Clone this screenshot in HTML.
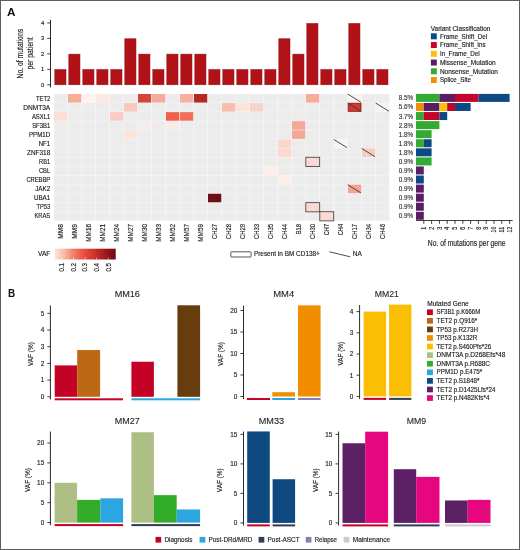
<!DOCTYPE html>
<html><head><meta charset="utf-8"><style>
html,body{margin:0;padding:0;background:#fff;}
#fig{position:relative;width:520px;height:550px;overflow:hidden;background:#fff;}
svg{display:block;font-family:"Liberation Sans", sans-serif;will-change:transform;}
#frame{position:absolute;left:0;top:0;width:518px;height:548px;border:1px solid #5e5e5e;}
</style></head><body>
<div id="fig">
<svg width="520" height="550" viewBox="0 0 520 550" font-family='"Liberation Sans", sans-serif'>
<text x="6.90" y="16.40" font-size="11.5" text-anchor="start" fill="#111" font-weight="bold" textLength="8.50" lengthAdjust="spacingAndGlyphs">A</text>
<text x="23.20" y="53.70" font-size="8.2" text-anchor="middle" fill="#222" stroke="#222" stroke-width="0.15" textLength="49.60" lengthAdjust="spacingAndGlyphs" transform="rotate(-90 23.20 53.70)">No. of mutations</text>
<text x="33.10" y="53.40" font-size="8.2" text-anchor="middle" fill="#222" stroke="#222" stroke-width="0.15" textLength="32.00" lengthAdjust="spacingAndGlyphs" transform="rotate(-90 33.10 53.40)">per patient</text>
<line x1="50.50" y1="19.80" x2="50.50" y2="87.30" stroke="#2a2a2a" stroke-width="1.0"/>
<line x1="47.30" y1="84.80" x2="50.50" y2="84.80" stroke="#2a2a2a" stroke-width="0.9"/>
<text x="44.20" y="86.90" font-size="5.9" text-anchor="end" fill="#222" stroke="#222" stroke-width="0.15">0</text>
<line x1="47.30" y1="69.33" x2="50.50" y2="69.33" stroke="#2a2a2a" stroke-width="0.9"/>
<text x="44.20" y="71.43" font-size="5.9" text-anchor="end" fill="#222" stroke="#222" stroke-width="0.15">1</text>
<line x1="47.30" y1="53.86" x2="50.50" y2="53.86" stroke="#2a2a2a" stroke-width="0.9"/>
<text x="44.20" y="55.96" font-size="5.9" text-anchor="end" fill="#222" stroke="#222" stroke-width="0.15">2</text>
<line x1="47.30" y1="38.39" x2="50.50" y2="38.39" stroke="#2a2a2a" stroke-width="0.9"/>
<text x="44.20" y="40.49" font-size="5.9" text-anchor="end" fill="#222" stroke="#222" stroke-width="0.15">3</text>
<line x1="47.30" y1="22.92" x2="50.50" y2="22.92" stroke="#2a2a2a" stroke-width="0.9"/>
<text x="44.20" y="25.02" font-size="5.9" text-anchor="end" fill="#222" stroke="#222" stroke-width="0.15">4</text>
<rect x="54.80" y="69.45" width="11.20" height="15.35" fill="#b01217" stroke="#8e1a1c" stroke-width="0.5"/>
<rect x="68.80" y="54.10" width="11.20" height="30.70" fill="#b01217" stroke="#8e1a1c" stroke-width="0.5"/>
<rect x="82.80" y="69.45" width="11.20" height="15.35" fill="#b01217" stroke="#8e1a1c" stroke-width="0.5"/>
<rect x="96.80" y="69.45" width="11.20" height="15.35" fill="#b01217" stroke="#8e1a1c" stroke-width="0.5"/>
<rect x="110.80" y="69.45" width="11.20" height="15.35" fill="#b01217" stroke="#8e1a1c" stroke-width="0.5"/>
<rect x="124.80" y="38.75" width="11.20" height="46.05" fill="#b01217" stroke="#8e1a1c" stroke-width="0.5"/>
<rect x="138.80" y="54.10" width="11.20" height="30.70" fill="#b01217" stroke="#8e1a1c" stroke-width="0.5"/>
<rect x="152.80" y="69.45" width="11.20" height="15.35" fill="#b01217" stroke="#8e1a1c" stroke-width="0.5"/>
<rect x="166.80" y="54.10" width="11.20" height="30.70" fill="#b01217" stroke="#8e1a1c" stroke-width="0.5"/>
<rect x="180.80" y="54.10" width="11.20" height="30.70" fill="#b01217" stroke="#8e1a1c" stroke-width="0.5"/>
<rect x="194.80" y="54.10" width="11.20" height="30.70" fill="#b01217" stroke="#8e1a1c" stroke-width="0.5"/>
<rect x="208.80" y="69.45" width="11.20" height="15.35" fill="#b01217" stroke="#8e1a1c" stroke-width="0.5"/>
<rect x="222.80" y="69.45" width="11.20" height="15.35" fill="#b01217" stroke="#8e1a1c" stroke-width="0.5"/>
<rect x="236.80" y="69.45" width="11.20" height="15.35" fill="#b01217" stroke="#8e1a1c" stroke-width="0.5"/>
<rect x="250.80" y="69.45" width="11.20" height="15.35" fill="#b01217" stroke="#8e1a1c" stroke-width="0.5"/>
<rect x="264.80" y="69.45" width="11.20" height="15.35" fill="#b01217" stroke="#8e1a1c" stroke-width="0.5"/>
<rect x="278.80" y="38.75" width="11.20" height="46.05" fill="#b01217" stroke="#8e1a1c" stroke-width="0.5"/>
<rect x="292.80" y="54.10" width="11.20" height="30.70" fill="#b01217" stroke="#8e1a1c" stroke-width="0.5"/>
<rect x="306.80" y="23.40" width="11.20" height="61.40" fill="#b01217" stroke="#8e1a1c" stroke-width="0.5"/>
<rect x="320.80" y="69.45" width="11.20" height="15.35" fill="#b01217" stroke="#8e1a1c" stroke-width="0.5"/>
<rect x="334.80" y="69.45" width="11.20" height="15.35" fill="#b01217" stroke="#8e1a1c" stroke-width="0.5"/>
<rect x="348.80" y="23.40" width="11.20" height="61.40" fill="#b01217" stroke="#8e1a1c" stroke-width="0.5"/>
<rect x="362.80" y="69.45" width="11.20" height="15.35" fill="#b01217" stroke="#8e1a1c" stroke-width="0.5"/>
<rect x="376.80" y="69.45" width="11.20" height="15.35" fill="#b01217" stroke="#8e1a1c" stroke-width="0.5"/>
<rect x="54.30" y="94.30" width="335.10" height="126.08" fill="#f6f6f6"/>
<rect x="54.00" y="94.00" width="13.25" height="8.55" fill="#ececec"/>
<rect x="54.00" y="103.07" width="13.25" height="8.55" fill="#ececec"/>
<rect x="54.00" y="112.14" width="13.25" height="8.55" fill="#f9dfd6"/>
<rect x="54.00" y="121.21" width="13.25" height="8.55" fill="#ececec"/>
<rect x="54.00" y="130.28" width="13.25" height="8.55" fill="#ececec"/>
<rect x="54.00" y="139.35" width="13.25" height="8.55" fill="#ececec"/>
<rect x="54.00" y="148.42" width="13.25" height="8.55" fill="#ececec"/>
<rect x="54.00" y="157.49" width="13.25" height="8.55" fill="#ececec"/>
<rect x="54.00" y="166.56" width="13.25" height="8.55" fill="#ececec"/>
<rect x="54.00" y="175.63" width="13.25" height="8.55" fill="#ececec"/>
<rect x="54.00" y="184.70" width="13.25" height="8.55" fill="#ececec"/>
<rect x="54.00" y="193.77" width="13.25" height="8.55" fill="#ececec"/>
<rect x="54.00" y="202.84" width="13.25" height="8.55" fill="#ececec"/>
<rect x="54.00" y="211.91" width="13.25" height="8.55" fill="#ececec"/>
<rect x="68.00" y="94.00" width="13.25" height="8.55" fill="#f7ac98"/>
<rect x="68.00" y="103.07" width="13.25" height="8.55" fill="#ececec"/>
<rect x="68.00" y="112.14" width="13.25" height="8.55" fill="#ececec"/>
<rect x="68.00" y="121.21" width="13.25" height="8.55" fill="#ececec"/>
<rect x="68.00" y="130.28" width="13.25" height="8.55" fill="#ececec"/>
<rect x="68.00" y="139.35" width="13.25" height="8.55" fill="#ececec"/>
<rect x="68.00" y="148.42" width="13.25" height="8.55" fill="#ececec"/>
<rect x="68.00" y="157.49" width="13.25" height="8.55" fill="#ececec"/>
<rect x="68.00" y="166.56" width="13.25" height="8.55" fill="#ececec"/>
<rect x="68.00" y="175.63" width="13.25" height="8.55" fill="#ececec"/>
<rect x="68.00" y="184.70" width="13.25" height="8.55" fill="#ececec"/>
<rect x="68.00" y="193.77" width="13.25" height="8.55" fill="#ececec"/>
<rect x="68.00" y="202.84" width="13.25" height="8.55" fill="#ececec"/>
<rect x="68.00" y="211.91" width="13.25" height="8.55" fill="#ececec"/>
<rect x="82.00" y="94.00" width="13.25" height="8.55" fill="#fdf3ee"/>
<rect x="82.00" y="103.07" width="13.25" height="8.55" fill="#ececec"/>
<rect x="82.00" y="112.14" width="13.25" height="8.55" fill="#ececec"/>
<rect x="82.00" y="121.21" width="13.25" height="8.55" fill="#ececec"/>
<rect x="82.00" y="130.28" width="13.25" height="8.55" fill="#ececec"/>
<rect x="82.00" y="139.35" width="13.25" height="8.55" fill="#ececec"/>
<rect x="82.00" y="148.42" width="13.25" height="8.55" fill="#ececec"/>
<rect x="82.00" y="157.49" width="13.25" height="8.55" fill="#ececec"/>
<rect x="82.00" y="166.56" width="13.25" height="8.55" fill="#ececec"/>
<rect x="82.00" y="175.63" width="13.25" height="8.55" fill="#ececec"/>
<rect x="82.00" y="184.70" width="13.25" height="8.55" fill="#ececec"/>
<rect x="82.00" y="193.77" width="13.25" height="8.55" fill="#ececec"/>
<rect x="82.00" y="202.84" width="13.25" height="8.55" fill="#ececec"/>
<rect x="82.00" y="211.91" width="13.25" height="8.55" fill="#ececec"/>
<rect x="96.00" y="94.00" width="13.25" height="8.55" fill="#fce9e4"/>
<rect x="96.00" y="103.07" width="13.25" height="8.55" fill="#ececec"/>
<rect x="96.00" y="112.14" width="13.25" height="8.55" fill="#ececec"/>
<rect x="96.00" y="121.21" width="13.25" height="8.55" fill="#ececec"/>
<rect x="96.00" y="130.28" width="13.25" height="8.55" fill="#ececec"/>
<rect x="96.00" y="139.35" width="13.25" height="8.55" fill="#ececec"/>
<rect x="96.00" y="148.42" width="13.25" height="8.55" fill="#ececec"/>
<rect x="96.00" y="157.49" width="13.25" height="8.55" fill="#ececec"/>
<rect x="96.00" y="166.56" width="13.25" height="8.55" fill="#ececec"/>
<rect x="96.00" y="175.63" width="13.25" height="8.55" fill="#ececec"/>
<rect x="96.00" y="184.70" width="13.25" height="8.55" fill="#ececec"/>
<rect x="96.00" y="193.77" width="13.25" height="8.55" fill="#ececec"/>
<rect x="96.00" y="202.84" width="13.25" height="8.55" fill="#ececec"/>
<rect x="96.00" y="211.91" width="13.25" height="8.55" fill="#ececec"/>
<rect x="110.00" y="94.00" width="13.25" height="8.55" fill="#ececec"/>
<rect x="110.00" y="103.07" width="13.25" height="8.55" fill="#ececec"/>
<rect x="110.00" y="112.14" width="13.25" height="8.55" fill="#f9cbc3"/>
<rect x="110.00" y="121.21" width="13.25" height="8.55" fill="#ececec"/>
<rect x="110.00" y="130.28" width="13.25" height="8.55" fill="#ececec"/>
<rect x="110.00" y="139.35" width="13.25" height="8.55" fill="#ececec"/>
<rect x="110.00" y="148.42" width="13.25" height="8.55" fill="#ececec"/>
<rect x="110.00" y="157.49" width="13.25" height="8.55" fill="#ececec"/>
<rect x="110.00" y="166.56" width="13.25" height="8.55" fill="#ececec"/>
<rect x="110.00" y="175.63" width="13.25" height="8.55" fill="#ececec"/>
<rect x="110.00" y="184.70" width="13.25" height="8.55" fill="#ececec"/>
<rect x="110.00" y="193.77" width="13.25" height="8.55" fill="#ececec"/>
<rect x="110.00" y="202.84" width="13.25" height="8.55" fill="#ececec"/>
<rect x="110.00" y="211.91" width="13.25" height="8.55" fill="#ececec"/>
<rect x="124.00" y="94.00" width="13.25" height="8.55" fill="#ececec"/>
<rect x="124.00" y="103.07" width="13.25" height="8.55" fill="#f8c8c0"/>
<rect x="124.00" y="112.14" width="13.25" height="8.55" fill="#ececec"/>
<rect x="124.00" y="121.21" width="13.25" height="8.55" fill="#ececec"/>
<rect x="124.00" y="130.28" width="13.25" height="8.55" fill="#fce3dc"/>
<rect x="124.00" y="139.35" width="13.25" height="8.55" fill="#ececec"/>
<rect x="124.00" y="148.42" width="13.25" height="8.55" fill="#ececec"/>
<rect x="124.00" y="157.49" width="13.25" height="8.55" fill="#ececec"/>
<rect x="124.00" y="166.56" width="13.25" height="8.55" fill="#ececec"/>
<rect x="124.00" y="175.63" width="13.25" height="8.55" fill="#ececec"/>
<rect x="124.00" y="184.70" width="13.25" height="8.55" fill="#ececec"/>
<rect x="124.00" y="193.77" width="13.25" height="8.55" fill="#ececec"/>
<rect x="124.00" y="202.84" width="13.25" height="8.55" fill="#ececec"/>
<rect x="124.00" y="211.91" width="13.25" height="8.55" fill="#ececec"/>
<rect x="138.00" y="94.00" width="13.25" height="8.55" fill="#d64538"/>
<rect x="138.00" y="103.07" width="13.25" height="8.55" fill="#ececec"/>
<rect x="138.00" y="112.14" width="13.25" height="8.55" fill="#ececec"/>
<rect x="138.00" y="121.21" width="13.25" height="8.55" fill="#f6ece8"/>
<rect x="138.00" y="130.28" width="13.25" height="8.55" fill="#ececec"/>
<rect x="138.00" y="139.35" width="13.25" height="8.55" fill="#ececec"/>
<rect x="138.00" y="148.42" width="13.25" height="8.55" fill="#ececec"/>
<rect x="138.00" y="157.49" width="13.25" height="8.55" fill="#ececec"/>
<rect x="138.00" y="166.56" width="13.25" height="8.55" fill="#ececec"/>
<rect x="138.00" y="175.63" width="13.25" height="8.55" fill="#ececec"/>
<rect x="138.00" y="184.70" width="13.25" height="8.55" fill="#ececec"/>
<rect x="138.00" y="193.77" width="13.25" height="8.55" fill="#ececec"/>
<rect x="138.00" y="202.84" width="13.25" height="8.55" fill="#ececec"/>
<rect x="138.00" y="211.91" width="13.25" height="8.55" fill="#ececec"/>
<rect x="152.00" y="94.00" width="13.25" height="8.55" fill="#f5ab9b"/>
<rect x="152.00" y="103.07" width="13.25" height="8.55" fill="#ececec"/>
<rect x="152.00" y="112.14" width="13.25" height="8.55" fill="#ececec"/>
<rect x="152.00" y="121.21" width="13.25" height="8.55" fill="#ececec"/>
<rect x="152.00" y="130.28" width="13.25" height="8.55" fill="#ececec"/>
<rect x="152.00" y="139.35" width="13.25" height="8.55" fill="#ececec"/>
<rect x="152.00" y="148.42" width="13.25" height="8.55" fill="#ececec"/>
<rect x="152.00" y="157.49" width="13.25" height="8.55" fill="#ececec"/>
<rect x="152.00" y="166.56" width="13.25" height="8.55" fill="#ececec"/>
<rect x="152.00" y="175.63" width="13.25" height="8.55" fill="#ececec"/>
<rect x="152.00" y="184.70" width="13.25" height="8.55" fill="#ececec"/>
<rect x="152.00" y="193.77" width="13.25" height="8.55" fill="#ececec"/>
<rect x="152.00" y="202.84" width="13.25" height="8.55" fill="#ececec"/>
<rect x="152.00" y="211.91" width="13.25" height="8.55" fill="#ececec"/>
<rect x="166.00" y="94.00" width="13.25" height="8.55" fill="#ececec"/>
<rect x="166.00" y="103.07" width="13.25" height="8.55" fill="#ececec"/>
<rect x="166.00" y="112.14" width="13.25" height="8.55" fill="#f05f48"/>
<rect x="166.00" y="121.21" width="13.25" height="8.55" fill="#f6ebe7"/>
<rect x="166.00" y="130.28" width="13.25" height="8.55" fill="#ececec"/>
<rect x="166.00" y="139.35" width="13.25" height="8.55" fill="#ececec"/>
<rect x="166.00" y="148.42" width="13.25" height="8.55" fill="#ececec"/>
<rect x="166.00" y="157.49" width="13.25" height="8.55" fill="#ececec"/>
<rect x="166.00" y="166.56" width="13.25" height="8.55" fill="#ececec"/>
<rect x="166.00" y="175.63" width="13.25" height="8.55" fill="#ececec"/>
<rect x="166.00" y="184.70" width="13.25" height="8.55" fill="#ececec"/>
<rect x="166.00" y="193.77" width="13.25" height="8.55" fill="#ececec"/>
<rect x="166.00" y="202.84" width="13.25" height="8.55" fill="#ececec"/>
<rect x="166.00" y="211.91" width="13.25" height="8.55" fill="#ececec"/>
<rect x="180.00" y="94.00" width="13.25" height="8.55" fill="#f5b0a0"/>
<rect x="180.00" y="103.07" width="13.25" height="8.55" fill="#ececec"/>
<rect x="180.00" y="112.14" width="13.25" height="8.55" fill="#f0705a"/>
<rect x="180.00" y="121.21" width="13.25" height="8.55" fill="#ececec"/>
<rect x="180.00" y="130.28" width="13.25" height="8.55" fill="#ececec"/>
<rect x="180.00" y="139.35" width="13.25" height="8.55" fill="#ececec"/>
<rect x="180.00" y="148.42" width="13.25" height="8.55" fill="#ececec"/>
<rect x="180.00" y="157.49" width="13.25" height="8.55" fill="#ececec"/>
<rect x="180.00" y="166.56" width="13.25" height="8.55" fill="#ececec"/>
<rect x="180.00" y="175.63" width="13.25" height="8.55" fill="#ececec"/>
<rect x="180.00" y="184.70" width="13.25" height="8.55" fill="#ececec"/>
<rect x="180.00" y="193.77" width="13.25" height="8.55" fill="#ececec"/>
<rect x="180.00" y="202.84" width="13.25" height="8.55" fill="#ececec"/>
<rect x="180.00" y="211.91" width="13.25" height="8.55" fill="#ececec"/>
<rect x="194.00" y="94.00" width="13.25" height="8.55" fill="#b22a24"/>
<rect x="194.00" y="103.07" width="13.25" height="8.55" fill="#ececec"/>
<rect x="194.00" y="112.14" width="13.25" height="8.55" fill="#ececec"/>
<rect x="194.00" y="121.21" width="13.25" height="8.55" fill="#ececec"/>
<rect x="194.00" y="130.28" width="13.25" height="8.55" fill="#ececec"/>
<rect x="194.00" y="139.35" width="13.25" height="8.55" fill="#ececec"/>
<rect x="194.00" y="148.42" width="13.25" height="8.55" fill="#ececec"/>
<rect x="194.00" y="157.49" width="13.25" height="8.55" fill="#ececec"/>
<rect x="194.00" y="166.56" width="13.25" height="8.55" fill="#ececec"/>
<rect x="194.00" y="175.63" width="13.25" height="8.55" fill="#ececec"/>
<rect x="194.00" y="184.70" width="13.25" height="8.55" fill="#ececec"/>
<rect x="194.00" y="193.77" width="13.25" height="8.55" fill="#ececec"/>
<rect x="194.00" y="202.84" width="13.25" height="8.55" fill="#ececec"/>
<rect x="194.00" y="211.91" width="13.25" height="8.55" fill="#ececec"/>
<rect x="208.00" y="94.00" width="13.25" height="8.55" fill="#ececec"/>
<rect x="208.00" y="103.07" width="13.25" height="8.55" fill="#ececec"/>
<rect x="208.00" y="112.14" width="13.25" height="8.55" fill="#ececec"/>
<rect x="208.00" y="121.21" width="13.25" height="8.55" fill="#ececec"/>
<rect x="208.00" y="130.28" width="13.25" height="8.55" fill="#ececec"/>
<rect x="208.00" y="139.35" width="13.25" height="8.55" fill="#ececec"/>
<rect x="208.00" y="148.42" width="13.25" height="8.55" fill="#ececec"/>
<rect x="208.00" y="157.49" width="13.25" height="8.55" fill="#ececec"/>
<rect x="208.00" y="166.56" width="13.25" height="8.55" fill="#ececec"/>
<rect x="208.00" y="175.63" width="13.25" height="8.55" fill="#ececec"/>
<rect x="208.00" y="184.70" width="13.25" height="8.55" fill="#ececec"/>
<rect x="208.00" y="193.77" width="13.25" height="8.55" fill="#6c1014"/>
<rect x="208.00" y="202.84" width="13.25" height="8.55" fill="#ececec"/>
<rect x="208.00" y="211.91" width="13.25" height="8.55" fill="#ececec"/>
<rect x="222.00" y="94.00" width="13.25" height="8.55" fill="#ececec"/>
<rect x="222.00" y="103.07" width="13.25" height="8.55" fill="#f8bead"/>
<rect x="222.00" y="112.14" width="13.25" height="8.55" fill="#ececec"/>
<rect x="222.00" y="121.21" width="13.25" height="8.55" fill="#ececec"/>
<rect x="222.00" y="130.28" width="13.25" height="8.55" fill="#ececec"/>
<rect x="222.00" y="139.35" width="13.25" height="8.55" fill="#ececec"/>
<rect x="222.00" y="148.42" width="13.25" height="8.55" fill="#ececec"/>
<rect x="222.00" y="157.49" width="13.25" height="8.55" fill="#ececec"/>
<rect x="222.00" y="166.56" width="13.25" height="8.55" fill="#ececec"/>
<rect x="222.00" y="175.63" width="13.25" height="8.55" fill="#ececec"/>
<rect x="222.00" y="184.70" width="13.25" height="8.55" fill="#ececec"/>
<rect x="222.00" y="193.77" width="13.25" height="8.55" fill="#ececec"/>
<rect x="222.00" y="202.84" width="13.25" height="8.55" fill="#ececec"/>
<rect x="222.00" y="211.91" width="13.25" height="8.55" fill="#ececec"/>
<rect x="236.00" y="94.00" width="13.25" height="8.55" fill="#ececec"/>
<rect x="236.00" y="103.07" width="13.25" height="8.55" fill="#fde2da"/>
<rect x="236.00" y="112.14" width="13.25" height="8.55" fill="#ececec"/>
<rect x="236.00" y="121.21" width="13.25" height="8.55" fill="#ececec"/>
<rect x="236.00" y="130.28" width="13.25" height="8.55" fill="#ececec"/>
<rect x="236.00" y="139.35" width="13.25" height="8.55" fill="#ececec"/>
<rect x="236.00" y="148.42" width="13.25" height="8.55" fill="#ececec"/>
<rect x="236.00" y="157.49" width="13.25" height="8.55" fill="#ececec"/>
<rect x="236.00" y="166.56" width="13.25" height="8.55" fill="#ececec"/>
<rect x="236.00" y="175.63" width="13.25" height="8.55" fill="#ececec"/>
<rect x="236.00" y="184.70" width="13.25" height="8.55" fill="#ececec"/>
<rect x="236.00" y="193.77" width="13.25" height="8.55" fill="#ececec"/>
<rect x="236.00" y="202.84" width="13.25" height="8.55" fill="#ececec"/>
<rect x="236.00" y="211.91" width="13.25" height="8.55" fill="#ececec"/>
<rect x="250.00" y="94.00" width="13.25" height="8.55" fill="#ececec"/>
<rect x="250.00" y="103.07" width="13.25" height="8.55" fill="#f7d3ca"/>
<rect x="250.00" y="112.14" width="13.25" height="8.55" fill="#ececec"/>
<rect x="250.00" y="121.21" width="13.25" height="8.55" fill="#ececec"/>
<rect x="250.00" y="130.28" width="13.25" height="8.55" fill="#ececec"/>
<rect x="250.00" y="139.35" width="13.25" height="8.55" fill="#ececec"/>
<rect x="250.00" y="148.42" width="13.25" height="8.55" fill="#ececec"/>
<rect x="250.00" y="157.49" width="13.25" height="8.55" fill="#ececec"/>
<rect x="250.00" y="166.56" width="13.25" height="8.55" fill="#ececec"/>
<rect x="250.00" y="175.63" width="13.25" height="8.55" fill="#ececec"/>
<rect x="250.00" y="184.70" width="13.25" height="8.55" fill="#ececec"/>
<rect x="250.00" y="193.77" width="13.25" height="8.55" fill="#ececec"/>
<rect x="250.00" y="202.84" width="13.25" height="8.55" fill="#ececec"/>
<rect x="250.00" y="211.91" width="13.25" height="8.55" fill="#ececec"/>
<rect x="264.00" y="94.00" width="13.25" height="8.55" fill="#ececec"/>
<rect x="264.00" y="103.07" width="13.25" height="8.55" fill="#ececec"/>
<rect x="264.00" y="112.14" width="13.25" height="8.55" fill="#ececec"/>
<rect x="264.00" y="121.21" width="13.25" height="8.55" fill="#ececec"/>
<rect x="264.00" y="130.28" width="13.25" height="8.55" fill="#ececec"/>
<rect x="264.00" y="139.35" width="13.25" height="8.55" fill="#ececec"/>
<rect x="264.00" y="148.42" width="13.25" height="8.55" fill="#ececec"/>
<rect x="264.00" y="157.49" width="13.25" height="8.55" fill="#ececec"/>
<rect x="264.00" y="166.56" width="13.25" height="8.55" fill="#fdeee9"/>
<rect x="264.00" y="175.63" width="13.25" height="8.55" fill="#ececec"/>
<rect x="264.00" y="184.70" width="13.25" height="8.55" fill="#ececec"/>
<rect x="264.00" y="193.77" width="13.25" height="8.55" fill="#ececec"/>
<rect x="264.00" y="202.84" width="13.25" height="8.55" fill="#ececec"/>
<rect x="264.00" y="211.91" width="13.25" height="8.55" fill="#ececec"/>
<rect x="278.00" y="94.00" width="13.25" height="8.55" fill="#ececec"/>
<rect x="278.00" y="103.07" width="13.25" height="8.55" fill="#ececec"/>
<rect x="278.00" y="112.14" width="13.25" height="8.55" fill="#ececec"/>
<rect x="278.00" y="121.21" width="13.25" height="8.55" fill="#ececec"/>
<rect x="278.00" y="130.28" width="13.25" height="8.55" fill="#ececec"/>
<rect x="278.00" y="139.35" width="13.25" height="8.55" fill="#fad6cc"/>
<rect x="278.00" y="148.42" width="13.25" height="8.55" fill="#fcd8d1"/>
<rect x="278.00" y="157.49" width="13.25" height="8.55" fill="#ececec"/>
<rect x="278.00" y="166.56" width="13.25" height="8.55" fill="#ececec"/>
<rect x="278.00" y="175.63" width="13.25" height="8.55" fill="#fdeee9"/>
<rect x="278.00" y="184.70" width="13.25" height="8.55" fill="#ececec"/>
<rect x="278.00" y="193.77" width="13.25" height="8.55" fill="#ececec"/>
<rect x="278.00" y="202.84" width="13.25" height="8.55" fill="#ececec"/>
<rect x="278.00" y="211.91" width="13.25" height="8.55" fill="#ececec"/>
<rect x="292.00" y="94.00" width="13.25" height="8.55" fill="#ececec"/>
<rect x="292.00" y="103.07" width="13.25" height="8.55" fill="#ececec"/>
<rect x="292.00" y="112.14" width="13.25" height="8.55" fill="#ececec"/>
<rect x="292.00" y="121.21" width="13.25" height="8.55" fill="#f4a898"/>
<rect x="292.00" y="130.28" width="13.25" height="8.55" fill="#f5a698"/>
<rect x="292.00" y="139.35" width="13.25" height="8.55" fill="#ececec"/>
<rect x="292.00" y="148.42" width="13.25" height="8.55" fill="#ececec"/>
<rect x="292.00" y="157.49" width="13.25" height="8.55" fill="#ececec"/>
<rect x="292.00" y="166.56" width="13.25" height="8.55" fill="#ececec"/>
<rect x="292.00" y="175.63" width="13.25" height="8.55" fill="#ececec"/>
<rect x="292.00" y="184.70" width="13.25" height="8.55" fill="#ececec"/>
<rect x="292.00" y="193.77" width="13.25" height="8.55" fill="#ececec"/>
<rect x="292.00" y="202.84" width="13.25" height="8.55" fill="#ececec"/>
<rect x="292.00" y="211.91" width="13.25" height="8.55" fill="#ececec"/>
<rect x="306.00" y="94.00" width="13.25" height="8.55" fill="#f7ab9b"/>
<rect x="306.00" y="103.07" width="13.25" height="8.55" fill="#ececec"/>
<rect x="306.00" y="112.14" width="13.25" height="8.55" fill="#ececec"/>
<rect x="306.00" y="121.21" width="13.25" height="8.55" fill="#ececec"/>
<rect x="306.00" y="130.28" width="13.25" height="8.55" fill="#ececec"/>
<rect x="306.00" y="139.35" width="13.25" height="8.55" fill="#ececec"/>
<rect x="306.00" y="148.42" width="13.25" height="8.55" fill="#ececec"/>
<rect x="306.00" y="157.49" width="13.25" height="8.55" fill="#fbd8d1"/>
<rect x="306.00" y="166.56" width="13.25" height="8.55" fill="#ececec"/>
<rect x="306.00" y="175.63" width="13.25" height="8.55" fill="#ececec"/>
<rect x="306.00" y="184.70" width="13.25" height="8.55" fill="#ececec"/>
<rect x="306.00" y="193.77" width="13.25" height="8.55" fill="#ececec"/>
<rect x="306.00" y="202.84" width="13.25" height="8.55" fill="#fbd8d1"/>
<rect x="306.00" y="211.91" width="13.25" height="8.55" fill="#ececec"/>
<rect x="320.00" y="94.00" width="13.25" height="8.55" fill="#ececec"/>
<rect x="320.00" y="103.07" width="13.25" height="8.55" fill="#ececec"/>
<rect x="320.00" y="112.14" width="13.25" height="8.55" fill="#ececec"/>
<rect x="320.00" y="121.21" width="13.25" height="8.55" fill="#ececec"/>
<rect x="320.00" y="130.28" width="13.25" height="8.55" fill="#ececec"/>
<rect x="320.00" y="139.35" width="13.25" height="8.55" fill="#ececec"/>
<rect x="320.00" y="148.42" width="13.25" height="8.55" fill="#ececec"/>
<rect x="320.00" y="157.49" width="13.25" height="8.55" fill="#ececec"/>
<rect x="320.00" y="166.56" width="13.25" height="8.55" fill="#ececec"/>
<rect x="320.00" y="175.63" width="13.25" height="8.55" fill="#ececec"/>
<rect x="320.00" y="184.70" width="13.25" height="8.55" fill="#ececec"/>
<rect x="320.00" y="193.77" width="13.25" height="8.55" fill="#ececec"/>
<rect x="320.00" y="202.84" width="13.25" height="8.55" fill="#ececec"/>
<rect x="320.00" y="211.91" width="13.25" height="8.55" fill="#fcdad0"/>
<rect x="334.00" y="94.00" width="13.25" height="8.55" fill="#ececec"/>
<rect x="334.00" y="103.07" width="13.25" height="8.55" fill="#ececec"/>
<rect x="334.00" y="112.14" width="13.25" height="8.55" fill="#ececec"/>
<rect x="334.00" y="121.21" width="13.25" height="8.55" fill="#ececec"/>
<rect x="334.00" y="130.28" width="13.25" height="8.55" fill="#ececec"/>
<rect x="334.00" y="139.35" width="13.25" height="8.55" fill="#f9f3f0"/>
<rect x="334.00" y="148.42" width="13.25" height="8.55" fill="#ececec"/>
<rect x="334.00" y="157.49" width="13.25" height="8.55" fill="#ececec"/>
<rect x="334.00" y="166.56" width="13.25" height="8.55" fill="#ececec"/>
<rect x="334.00" y="175.63" width="13.25" height="8.55" fill="#ececec"/>
<rect x="334.00" y="184.70" width="13.25" height="8.55" fill="#ececec"/>
<rect x="334.00" y="193.77" width="13.25" height="8.55" fill="#ececec"/>
<rect x="334.00" y="202.84" width="13.25" height="8.55" fill="#ececec"/>
<rect x="334.00" y="211.91" width="13.25" height="8.55" fill="#ececec"/>
<rect x="348.00" y="94.00" width="13.25" height="8.55" fill="#f9f3f0"/>
<rect x="348.00" y="103.07" width="13.25" height="8.55" fill="#cc3a30"/>
<rect x="348.00" y="112.14" width="13.25" height="8.55" fill="#ececec"/>
<rect x="348.00" y="121.21" width="13.25" height="8.55" fill="#ececec"/>
<rect x="348.00" y="130.28" width="13.25" height="8.55" fill="#ececec"/>
<rect x="348.00" y="139.35" width="13.25" height="8.55" fill="#ececec"/>
<rect x="348.00" y="148.42" width="13.25" height="8.55" fill="#ececec"/>
<rect x="348.00" y="157.49" width="13.25" height="8.55" fill="#ececec"/>
<rect x="348.00" y="166.56" width="13.25" height="8.55" fill="#ececec"/>
<rect x="348.00" y="175.63" width="13.25" height="8.55" fill="#ececec"/>
<rect x="348.00" y="184.70" width="13.25" height="8.55" fill="#f5a493"/>
<rect x="348.00" y="193.77" width="13.25" height="8.55" fill="#ececec"/>
<rect x="348.00" y="202.84" width="13.25" height="8.55" fill="#ececec"/>
<rect x="348.00" y="211.91" width="13.25" height="8.55" fill="#ececec"/>
<rect x="362.00" y="94.00" width="13.25" height="8.55" fill="#ececec"/>
<rect x="362.00" y="103.07" width="13.25" height="8.55" fill="#ececec"/>
<rect x="362.00" y="112.14" width="13.25" height="8.55" fill="#ececec"/>
<rect x="362.00" y="121.21" width="13.25" height="8.55" fill="#ececec"/>
<rect x="362.00" y="130.28" width="13.25" height="8.55" fill="#ececec"/>
<rect x="362.00" y="139.35" width="13.25" height="8.55" fill="#ececec"/>
<rect x="362.00" y="148.42" width="13.25" height="8.55" fill="#f8cdc0"/>
<rect x="362.00" y="157.49" width="13.25" height="8.55" fill="#ececec"/>
<rect x="362.00" y="166.56" width="13.25" height="8.55" fill="#ececec"/>
<rect x="362.00" y="175.63" width="13.25" height="8.55" fill="#ececec"/>
<rect x="362.00" y="184.70" width="13.25" height="8.55" fill="#ececec"/>
<rect x="362.00" y="193.77" width="13.25" height="8.55" fill="#ececec"/>
<rect x="362.00" y="202.84" width="13.25" height="8.55" fill="#ececec"/>
<rect x="362.00" y="211.91" width="13.25" height="8.55" fill="#ececec"/>
<rect x="376.00" y="94.00" width="13.25" height="8.55" fill="#ececec"/>
<rect x="376.00" y="103.07" width="13.25" height="8.55" fill="#f9f3f0"/>
<rect x="376.00" y="112.14" width="13.25" height="8.55" fill="#ececec"/>
<rect x="376.00" y="121.21" width="13.25" height="8.55" fill="#ececec"/>
<rect x="376.00" y="130.28" width="13.25" height="8.55" fill="#ececec"/>
<rect x="376.00" y="139.35" width="13.25" height="8.55" fill="#ececec"/>
<rect x="376.00" y="148.42" width="13.25" height="8.55" fill="#ececec"/>
<rect x="376.00" y="157.49" width="13.25" height="8.55" fill="#ececec"/>
<rect x="376.00" y="166.56" width="13.25" height="8.55" fill="#ececec"/>
<rect x="376.00" y="175.63" width="13.25" height="8.55" fill="#ececec"/>
<rect x="376.00" y="184.70" width="13.25" height="8.55" fill="#ececec"/>
<rect x="376.00" y="193.77" width="13.25" height="8.55" fill="#ececec"/>
<rect x="376.00" y="202.84" width="13.25" height="8.55" fill="#ececec"/>
<rect x="376.00" y="211.91" width="13.25" height="8.55" fill="#ececec"/>
<rect x="305.80" y="157.29" width="13.85" height="9.15" fill="none" stroke="#4a4a4a" stroke-width="0.9"/>
<rect x="305.80" y="202.64" width="13.85" height="9.15" fill="none" stroke="#4a4a4a" stroke-width="0.9"/>
<rect x="319.80" y="211.71" width="13.85" height="9.15" fill="none" stroke="#4a4a4a" stroke-width="0.9"/>
<rect x="348.10" y="103.17" width="12.85" height="8.35" fill="none" stroke="#8a2020" stroke-width="0.7"/>
<line x1="347.70" y1="94.00" x2="360.95" y2="102.25" stroke="#3a3a3a" stroke-width="0.9"/>
<line x1="347.70" y1="103.07" x2="360.95" y2="111.32" stroke="#3a3a3a" stroke-width="0.9"/>
<line x1="333.70" y1="139.35" x2="346.95" y2="147.60" stroke="#3a3a3a" stroke-width="0.9"/>
<line x1="361.70" y1="148.42" x2="374.95" y2="156.67" stroke="#3a3a3a" stroke-width="0.9"/>
<line x1="347.70" y1="184.70" x2="360.95" y2="192.95" stroke="#3a3a3a" stroke-width="0.9"/>
<line x1="375.70" y1="103.07" x2="388.95" y2="111.32" stroke="#3a3a3a" stroke-width="0.9"/>
<text x="50.20" y="100.55" font-size="6.5" text-anchor="end" fill="#222" stroke="#222" stroke-width="0.15" textLength="14.20" lengthAdjust="spacingAndGlyphs">TET2</text>
<text x="50.20" y="109.62" font-size="6.5" text-anchor="end" fill="#222" stroke="#222" stroke-width="0.15" textLength="27.00" lengthAdjust="spacingAndGlyphs">DNMT3A</text>
<text x="50.20" y="118.69" font-size="6.5" text-anchor="end" fill="#222" stroke="#222" stroke-width="0.15" textLength="18.30" lengthAdjust="spacingAndGlyphs">ASXL1</text>
<text x="50.20" y="127.76" font-size="6.5" text-anchor="end" fill="#222" stroke="#222" stroke-width="0.15" textLength="18.00" lengthAdjust="spacingAndGlyphs">SF3B1</text>
<text x="50.20" y="136.83" font-size="6.5" text-anchor="end" fill="#222" stroke="#222" stroke-width="0.15" textLength="21.20" lengthAdjust="spacingAndGlyphs">PPM1D</text>
<text x="50.20" y="145.90" font-size="6.5" text-anchor="end" fill="#222" stroke="#222" stroke-width="0.15" textLength="11.50" lengthAdjust="spacingAndGlyphs">NF1</text>
<text x="50.20" y="154.97" font-size="6.5" text-anchor="end" fill="#222" stroke="#222" stroke-width="0.15" textLength="23.10" lengthAdjust="spacingAndGlyphs">ZNF318</text>
<text x="50.20" y="164.04" font-size="6.5" text-anchor="end" fill="#222" stroke="#222" stroke-width="0.15" textLength="11.10" lengthAdjust="spacingAndGlyphs">RB1</text>
<text x="50.20" y="173.11" font-size="6.5" text-anchor="end" fill="#222" stroke="#222" stroke-width="0.15" textLength="11.30" lengthAdjust="spacingAndGlyphs">CBL</text>
<text x="50.20" y="182.18" font-size="6.5" text-anchor="end" fill="#222" stroke="#222" stroke-width="0.15" textLength="23.80" lengthAdjust="spacingAndGlyphs">CREBBP</text>
<text x="50.20" y="191.25" font-size="6.5" text-anchor="end" fill="#222" stroke="#222" stroke-width="0.15" textLength="15.00" lengthAdjust="spacingAndGlyphs">JAK2</text>
<text x="50.20" y="200.32" font-size="6.5" text-anchor="end" fill="#222" stroke="#222" stroke-width="0.15" textLength="16.30" lengthAdjust="spacingAndGlyphs">UBA1</text>
<text x="50.20" y="209.39" font-size="6.5" text-anchor="end" fill="#222" stroke="#222" stroke-width="0.15" textLength="13.80" lengthAdjust="spacingAndGlyphs">TP53</text>
<text x="50.20" y="218.46" font-size="6.5" text-anchor="end" fill="#222" stroke="#222" stroke-width="0.15" textLength="15.70" lengthAdjust="spacingAndGlyphs">KRAS</text>
<text x="63.00" y="224.00" font-size="6.6" text-anchor="end" fill="#222" stroke="#222" stroke-width="0.15" textLength="14.70" lengthAdjust="spacingAndGlyphs" transform="rotate(-90 63.00 224.00)">MM8</text>
<text x="77.00" y="224.00" font-size="6.6" text-anchor="end" fill="#222" stroke="#222" stroke-width="0.15" textLength="14.70" lengthAdjust="spacingAndGlyphs" transform="rotate(-90 77.00 224.00)">MM9</text>
<text x="91.00" y="224.00" font-size="6.6" text-anchor="end" fill="#222" stroke="#222" stroke-width="0.15" textLength="17.70" lengthAdjust="spacingAndGlyphs" transform="rotate(-90 91.00 224.00)">MM16</text>
<text x="105.00" y="224.00" font-size="6.6" text-anchor="end" fill="#222" stroke="#222" stroke-width="0.15" textLength="17.70" lengthAdjust="spacingAndGlyphs" transform="rotate(-90 105.00 224.00)">MM21</text>
<text x="119.00" y="224.00" font-size="6.6" text-anchor="end" fill="#222" stroke="#222" stroke-width="0.15" textLength="17.70" lengthAdjust="spacingAndGlyphs" transform="rotate(-90 119.00 224.00)">MM24</text>
<text x="133.00" y="224.00" font-size="6.6" text-anchor="end" fill="#222" stroke="#222" stroke-width="0.15" textLength="17.70" lengthAdjust="spacingAndGlyphs" transform="rotate(-90 133.00 224.00)">MM27</text>
<text x="147.00" y="224.00" font-size="6.6" text-anchor="end" fill="#222" stroke="#222" stroke-width="0.15" textLength="17.70" lengthAdjust="spacingAndGlyphs" transform="rotate(-90 147.00 224.00)">MM30</text>
<text x="161.00" y="224.00" font-size="6.6" text-anchor="end" fill="#222" stroke="#222" stroke-width="0.15" textLength="17.70" lengthAdjust="spacingAndGlyphs" transform="rotate(-90 161.00 224.00)">MM33</text>
<text x="175.00" y="224.00" font-size="6.6" text-anchor="end" fill="#222" stroke="#222" stroke-width="0.15" textLength="17.70" lengthAdjust="spacingAndGlyphs" transform="rotate(-90 175.00 224.00)">MM52</text>
<text x="189.00" y="224.00" font-size="6.6" text-anchor="end" fill="#222" stroke="#222" stroke-width="0.15" textLength="17.70" lengthAdjust="spacingAndGlyphs" transform="rotate(-90 189.00 224.00)">MM57</text>
<text x="203.00" y="224.00" font-size="6.6" text-anchor="end" fill="#222" stroke="#222" stroke-width="0.15" textLength="17.70" lengthAdjust="spacingAndGlyphs" transform="rotate(-90 203.00 224.00)">MM59</text>
<text x="217.00" y="224.00" font-size="6.6" text-anchor="end" fill="#222" stroke="#222" stroke-width="0.15" textLength="15.00" lengthAdjust="spacingAndGlyphs" transform="rotate(-90 217.00 224.00)">CH27</text>
<text x="231.00" y="224.00" font-size="6.6" text-anchor="end" fill="#222" stroke="#222" stroke-width="0.15" textLength="15.00" lengthAdjust="spacingAndGlyphs" transform="rotate(-90 231.00 224.00)">CH28</text>
<text x="245.00" y="224.00" font-size="6.6" text-anchor="end" fill="#222" stroke="#222" stroke-width="0.15" textLength="15.00" lengthAdjust="spacingAndGlyphs" transform="rotate(-90 245.00 224.00)">CH29</text>
<text x="259.00" y="224.00" font-size="6.6" text-anchor="end" fill="#222" stroke="#222" stroke-width="0.15" textLength="15.00" lengthAdjust="spacingAndGlyphs" transform="rotate(-90 259.00 224.00)">CH33</text>
<text x="273.00" y="224.00" font-size="6.6" text-anchor="end" fill="#222" stroke="#222" stroke-width="0.15" textLength="15.00" lengthAdjust="spacingAndGlyphs" transform="rotate(-90 273.00 224.00)">CH35</text>
<text x="287.00" y="224.00" font-size="6.6" text-anchor="end" fill="#222" stroke="#222" stroke-width="0.15" textLength="15.00" lengthAdjust="spacingAndGlyphs" transform="rotate(-90 287.00 224.00)">CH44</text>
<text x="301.00" y="224.00" font-size="6.6" text-anchor="end" fill="#222" stroke="#222" stroke-width="0.15" textLength="10.20" lengthAdjust="spacingAndGlyphs" transform="rotate(-90 301.00 224.00)">B18</text>
<text x="315.00" y="224.00" font-size="6.6" text-anchor="end" fill="#222" stroke="#222" stroke-width="0.15" textLength="15.00" lengthAdjust="spacingAndGlyphs" transform="rotate(-90 315.00 224.00)">CH30</text>
<text x="329.00" y="224.00" font-size="6.6" text-anchor="end" fill="#222" stroke="#222" stroke-width="0.15" textLength="11.20" lengthAdjust="spacingAndGlyphs" transform="rotate(-90 329.00 224.00)">CH7</text>
<text x="343.00" y="224.00" font-size="6.6" text-anchor="end" fill="#222" stroke="#222" stroke-width="0.15" textLength="11.20" lengthAdjust="spacingAndGlyphs" transform="rotate(-90 343.00 224.00)">CH4</text>
<text x="357.00" y="224.00" font-size="6.6" text-anchor="end" fill="#222" stroke="#222" stroke-width="0.15" textLength="15.00" lengthAdjust="spacingAndGlyphs" transform="rotate(-90 357.00 224.00)">CH17</text>
<text x="371.00" y="224.00" font-size="6.6" text-anchor="end" fill="#222" stroke="#222" stroke-width="0.15" textLength="15.00" lengthAdjust="spacingAndGlyphs" transform="rotate(-90 371.00 224.00)">CH34</text>
<text x="385.00" y="224.00" font-size="6.6" text-anchor="end" fill="#222" stroke="#222" stroke-width="0.15" textLength="15.00" lengthAdjust="spacingAndGlyphs" transform="rotate(-90 385.00 224.00)">CH46</text>
<defs><linearGradient id="reds" x1="0" x2="1" y1="0" y2="0"><stop offset="0" stop-color="#fde6dd"/><stop offset="0.15" stop-color="#f9bba8"/><stop offset="0.3" stop-color="#f3836b"/><stop offset="0.45" stop-color="#ea5644"/><stop offset="0.6" stop-color="#d63b31"/><stop offset="0.75" stop-color="#b42325"/><stop offset="0.9" stop-color="#8c1219"/><stop offset="1" stop-color="#670a12"/></linearGradient></defs>
<text x="50.40" y="256.00" font-size="6.6" text-anchor="end" fill="#222" stroke="#222" stroke-width="0.15">VAF</text>
<rect x="54.70" y="248.70" width="61.00" height="10.80" fill="url(#reds)"/>
<line x1="61.90" y1="257.30" x2="61.90" y2="259.50" stroke="#ffffff" stroke-width="0.5"/>
<text x="64.20" y="262.90" font-size="6.6" text-anchor="end" fill="#222" stroke="#222" stroke-width="0.15" textLength="8.70" lengthAdjust="spacingAndGlyphs" transform="rotate(-90 64.20 262.90)">0.1</text>
<line x1="73.50" y1="257.30" x2="73.50" y2="259.50" stroke="#ffffff" stroke-width="0.5"/>
<text x="75.80" y="262.90" font-size="6.6" text-anchor="end" fill="#222" stroke="#222" stroke-width="0.15" textLength="8.70" lengthAdjust="spacingAndGlyphs" transform="rotate(-90 75.80 262.90)">0.2</text>
<line x1="85.10" y1="257.30" x2="85.10" y2="259.50" stroke="#ffffff" stroke-width="0.5"/>
<text x="87.40" y="262.90" font-size="6.6" text-anchor="end" fill="#222" stroke="#222" stroke-width="0.15" textLength="8.70" lengthAdjust="spacingAndGlyphs" transform="rotate(-90 87.40 262.90)">0.3</text>
<line x1="96.70" y1="257.30" x2="96.70" y2="259.50" stroke="#ffffff" stroke-width="0.5"/>
<text x="99.00" y="262.90" font-size="6.6" text-anchor="end" fill="#222" stroke="#222" stroke-width="0.15" textLength="8.70" lengthAdjust="spacingAndGlyphs" transform="rotate(-90 99.00 262.90)">0.4</text>
<line x1="108.30" y1="257.30" x2="108.30" y2="259.50" stroke="#ffffff" stroke-width="0.5"/>
<text x="110.60" y="262.90" font-size="6.6" text-anchor="end" fill="#222" stroke="#222" stroke-width="0.15" textLength="8.70" lengthAdjust="spacingAndGlyphs" transform="rotate(-90 110.60 262.90)">0.5</text>
<rect x="230.80" y="251.80" width="20.30" height="5.20" fill="none" rx="0.6" stroke="#444" stroke-width="0.9"/>
<text x="253.90" y="256.30" font-size="6.4" text-anchor="start" fill="#222" stroke="#222" stroke-width="0.15" textLength="66.00" lengthAdjust="spacingAndGlyphs">Present in BM CD138+</text>
<line x1="329.40" y1="251.80" x2="350.20" y2="256.80" stroke="#3a3a3a" stroke-width="0.9"/>
<text x="352.80" y="256.30" font-size="6.4" text-anchor="start" fill="#222" stroke="#222" stroke-width="0.15" textLength="9.10" lengthAdjust="spacingAndGlyphs">NA</text>
<text x="430.80" y="30.60" font-size="6.4" text-anchor="start" fill="#222" stroke="#222" stroke-width="0.15" textLength="59.50" lengthAdjust="spacingAndGlyphs">Variant Classification</text>
<rect x="430.90" y="33.30" width="5.90" height="6.00" fill="#0d4a84"/>
<text x="439.90" y="38.50" font-size="6.5" text-anchor="start" fill="#222" stroke="#222" stroke-width="0.15" textLength="47.20" lengthAdjust="spacingAndGlyphs">Frame_Shift_Del</text>
<rect x="430.90" y="42.05" width="5.90" height="6.00" fill="#c4042a"/>
<text x="439.90" y="47.25" font-size="6.5" text-anchor="start" fill="#222" stroke="#222" stroke-width="0.15" textLength="45.80" lengthAdjust="spacingAndGlyphs">Frame_Shift_Ins</text>
<rect x="430.90" y="50.80" width="5.90" height="6.00" fill="#fac204"/>
<text x="439.90" y="56.00" font-size="6.5" text-anchor="start" fill="#222" stroke="#222" stroke-width="0.15" textLength="39.80" lengthAdjust="spacingAndGlyphs">In_Frame_Del</text>
<rect x="430.90" y="59.55" width="5.90" height="6.00" fill="#5a1e64"/>
<text x="439.90" y="64.75" font-size="6.5" text-anchor="start" fill="#222" stroke="#222" stroke-width="0.15" textLength="55.70" lengthAdjust="spacingAndGlyphs">Missense_Mutation</text>
<rect x="430.90" y="68.30" width="5.90" height="6.00" fill="#33ab33"/>
<text x="439.90" y="73.50" font-size="6.5" text-anchor="start" fill="#222" stroke="#222" stroke-width="0.15" textLength="58.00" lengthAdjust="spacingAndGlyphs">Nonsense_Mutation</text>
<rect x="430.90" y="77.05" width="5.90" height="6.00" fill="#f28f06"/>
<text x="439.90" y="82.25" font-size="6.5" text-anchor="start" fill="#222" stroke="#222" stroke-width="0.15" textLength="31.10" lengthAdjust="spacingAndGlyphs">Splice_Site</text>
<rect x="416.00" y="93.90" width="23.40" height="8.00" fill="#33ab33"/>
<rect x="439.40" y="93.90" width="15.60" height="8.00" fill="#5a1e64"/>
<rect x="455.00" y="93.90" width="23.40" height="8.00" fill="#c4042a"/>
<rect x="478.40" y="93.90" width="31.20" height="8.00" fill="#0d4a84"/>
<text x="413.10" y="100.40" font-size="7.0" text-anchor="end" fill="#333" stroke="#333" stroke-width="0.15" textLength="14.40" lengthAdjust="spacingAndGlyphs">8.5%</text>
<rect x="416.00" y="102.97" width="7.80" height="8.00" fill="#f28f06"/>
<rect x="423.80" y="102.97" width="15.60" height="8.00" fill="#5a1e64"/>
<rect x="439.40" y="102.97" width="7.80" height="8.00" fill="#fac204"/>
<rect x="447.20" y="102.97" width="7.80" height="8.00" fill="#c4042a"/>
<rect x="455.00" y="102.97" width="15.60" height="8.00" fill="#0d4a84"/>
<text x="413.10" y="109.47" font-size="7.0" text-anchor="end" fill="#333" stroke="#333" stroke-width="0.15" textLength="14.40" lengthAdjust="spacingAndGlyphs">5.6%</text>
<rect x="416.00" y="112.04" width="7.80" height="8.00" fill="#33ab33"/>
<rect x="423.80" y="112.04" width="15.60" height="8.00" fill="#c4042a"/>
<rect x="439.40" y="112.04" width="7.80" height="8.00" fill="#0d4a84"/>
<text x="413.10" y="118.54" font-size="7.0" text-anchor="end" fill="#333" stroke="#333" stroke-width="0.15" textLength="14.40" lengthAdjust="spacingAndGlyphs">3.7%</text>
<rect x="416.00" y="121.11" width="23.40" height="8.00" fill="#33ab33"/>
<text x="413.10" y="127.61" font-size="7.0" text-anchor="end" fill="#333" stroke="#333" stroke-width="0.15" textLength="14.40" lengthAdjust="spacingAndGlyphs">2.8%</text>
<rect x="416.00" y="130.18" width="15.60" height="8.00" fill="#33ab33"/>
<text x="413.10" y="136.68" font-size="7.0" text-anchor="end" fill="#333" stroke="#333" stroke-width="0.15" textLength="14.40" lengthAdjust="spacingAndGlyphs">1.8%</text>
<rect x="416.00" y="139.25" width="7.80" height="8.00" fill="#33ab33"/>
<rect x="423.80" y="139.25" width="7.80" height="8.00" fill="#0d4a84"/>
<text x="413.10" y="145.75" font-size="7.0" text-anchor="end" fill="#333" stroke="#333" stroke-width="0.15" textLength="14.40" lengthAdjust="spacingAndGlyphs">1.8%</text>
<rect x="416.00" y="148.32" width="15.60" height="8.00" fill="#0d4a84"/>
<text x="413.10" y="154.82" font-size="7.0" text-anchor="end" fill="#333" stroke="#333" stroke-width="0.15" textLength="14.40" lengthAdjust="spacingAndGlyphs">1.8%</text>
<rect x="416.00" y="157.39" width="15.60" height="8.00" fill="#33ab33"/>
<text x="413.10" y="163.89" font-size="7.0" text-anchor="end" fill="#333" stroke="#333" stroke-width="0.15" textLength="14.40" lengthAdjust="spacingAndGlyphs">0.9%</text>
<rect x="416.00" y="166.46" width="7.80" height="8.00" fill="#5a1e64"/>
<text x="413.10" y="172.96" font-size="7.0" text-anchor="end" fill="#333" stroke="#333" stroke-width="0.15" textLength="14.40" lengthAdjust="spacingAndGlyphs">0.9%</text>
<rect x="416.00" y="175.53" width="7.80" height="8.00" fill="#0d4a84"/>
<text x="413.10" y="182.03" font-size="7.0" text-anchor="end" fill="#333" stroke="#333" stroke-width="0.15" textLength="14.40" lengthAdjust="spacingAndGlyphs">0.9%</text>
<rect x="416.00" y="184.60" width="7.80" height="8.00" fill="#5a1e64"/>
<text x="413.10" y="191.10" font-size="7.0" text-anchor="end" fill="#333" stroke="#333" stroke-width="0.15" textLength="14.40" lengthAdjust="spacingAndGlyphs">0.9%</text>
<rect x="416.00" y="193.67" width="7.80" height="8.00" fill="#5a1e64"/>
<text x="413.10" y="200.17" font-size="7.0" text-anchor="end" fill="#333" stroke="#333" stroke-width="0.15" textLength="14.40" lengthAdjust="spacingAndGlyphs">0.9%</text>
<rect x="416.00" y="202.74" width="7.80" height="8.00" fill="#5a1e64"/>
<text x="413.10" y="209.24" font-size="7.0" text-anchor="end" fill="#333" stroke="#333" stroke-width="0.15" textLength="14.40" lengthAdjust="spacingAndGlyphs">0.9%</text>
<rect x="416.00" y="211.81" width="7.80" height="8.00" fill="#5a1e64"/>
<text x="413.10" y="218.31" font-size="7.0" text-anchor="end" fill="#333" stroke="#333" stroke-width="0.15" textLength="14.40" lengthAdjust="spacingAndGlyphs">0.9%</text>
<line x1="416.00" y1="220.50" x2="512.70" y2="220.50" stroke="#2a2a2a" stroke-width="0.9"/>
<line x1="423.80" y1="220.50" x2="423.80" y2="223.80" stroke="#2a2a2a" stroke-width="0.9"/>
<text x="426.00" y="226.80" font-size="6.4" text-anchor="end" fill="#222" stroke="#222" stroke-width="0.15" textLength="3.00" lengthAdjust="spacingAndGlyphs" transform="rotate(-90 426.00 226.80)">1</text>
<line x1="431.60" y1="220.50" x2="431.60" y2="223.80" stroke="#2a2a2a" stroke-width="0.9"/>
<text x="433.80" y="226.80" font-size="6.4" text-anchor="end" fill="#222" stroke="#222" stroke-width="0.15" textLength="3.00" lengthAdjust="spacingAndGlyphs" transform="rotate(-90 433.80 226.80)">2</text>
<line x1="439.40" y1="220.50" x2="439.40" y2="223.80" stroke="#2a2a2a" stroke-width="0.9"/>
<text x="441.60" y="226.80" font-size="6.4" text-anchor="end" fill="#222" stroke="#222" stroke-width="0.15" textLength="3.00" lengthAdjust="spacingAndGlyphs" transform="rotate(-90 441.60 226.80)">3</text>
<line x1="447.20" y1="220.50" x2="447.20" y2="223.80" stroke="#2a2a2a" stroke-width="0.9"/>
<text x="449.40" y="226.80" font-size="6.4" text-anchor="end" fill="#222" stroke="#222" stroke-width="0.15" textLength="3.00" lengthAdjust="spacingAndGlyphs" transform="rotate(-90 449.40 226.80)">4</text>
<line x1="455.00" y1="220.50" x2="455.00" y2="223.80" stroke="#2a2a2a" stroke-width="0.9"/>
<text x="457.20" y="226.80" font-size="6.4" text-anchor="end" fill="#222" stroke="#222" stroke-width="0.15" textLength="3.00" lengthAdjust="spacingAndGlyphs" transform="rotate(-90 457.20 226.80)">5</text>
<line x1="462.80" y1="220.50" x2="462.80" y2="223.80" stroke="#2a2a2a" stroke-width="0.9"/>
<text x="465.00" y="226.80" font-size="6.4" text-anchor="end" fill="#222" stroke="#222" stroke-width="0.15" textLength="3.00" lengthAdjust="spacingAndGlyphs" transform="rotate(-90 465.00 226.80)">6</text>
<line x1="470.60" y1="220.50" x2="470.60" y2="223.80" stroke="#2a2a2a" stroke-width="0.9"/>
<text x="472.80" y="226.80" font-size="6.4" text-anchor="end" fill="#222" stroke="#222" stroke-width="0.15" textLength="3.00" lengthAdjust="spacingAndGlyphs" transform="rotate(-90 472.80 226.80)">7</text>
<line x1="478.40" y1="220.50" x2="478.40" y2="223.80" stroke="#2a2a2a" stroke-width="0.9"/>
<text x="480.60" y="226.80" font-size="6.4" text-anchor="end" fill="#222" stroke="#222" stroke-width="0.15" textLength="3.00" lengthAdjust="spacingAndGlyphs" transform="rotate(-90 480.60 226.80)">8</text>
<line x1="486.20" y1="220.50" x2="486.20" y2="223.80" stroke="#2a2a2a" stroke-width="0.9"/>
<text x="488.40" y="226.80" font-size="6.4" text-anchor="end" fill="#222" stroke="#222" stroke-width="0.15" textLength="3.00" lengthAdjust="spacingAndGlyphs" transform="rotate(-90 488.40 226.80)">9</text>
<line x1="494.00" y1="220.50" x2="494.00" y2="223.80" stroke="#2a2a2a" stroke-width="0.9"/>
<text x="496.20" y="226.80" font-size="6.4" text-anchor="end" fill="#222" stroke="#222" stroke-width="0.15" textLength="5.60" lengthAdjust="spacingAndGlyphs" transform="rotate(-90 496.20 226.80)">10</text>
<line x1="501.80" y1="220.50" x2="501.80" y2="223.80" stroke="#2a2a2a" stroke-width="0.9"/>
<text x="504.00" y="226.80" font-size="6.4" text-anchor="end" fill="#222" stroke="#222" stroke-width="0.15" textLength="5.60" lengthAdjust="spacingAndGlyphs" transform="rotate(-90 504.00 226.80)">11</text>
<line x1="509.60" y1="220.50" x2="509.60" y2="223.80" stroke="#2a2a2a" stroke-width="0.9"/>
<text x="511.80" y="226.80" font-size="6.4" text-anchor="end" fill="#222" stroke="#222" stroke-width="0.15" textLength="5.60" lengthAdjust="spacingAndGlyphs" transform="rotate(-90 511.80 226.80)">12</text>
<text x="466.70" y="245.80" font-size="8.6" text-anchor="middle" fill="#222" stroke="#222" stroke-width="0.15" textLength="77.80" lengthAdjust="spacingAndGlyphs">No. of mutations per gene</text>
<text x="8.00" y="297.00" font-size="11.8" text-anchor="start" fill="#111" font-weight="bold" textLength="7.20" lengthAdjust="spacingAndGlyphs">B</text>
<text x="127.30" y="297.30" font-size="8.8" text-anchor="middle" fill="#222" stroke="#222" stroke-width="0.1" textLength="25.30" lengthAdjust="spacingAndGlyphs">MM16</text>
<text x="33.30" y="354.10" font-size="7.8" text-anchor="middle" fill="#222" stroke="#222" stroke-width="0.15" textLength="23.80" lengthAdjust="spacingAndGlyphs" transform="rotate(-90 33.30 354.10)">VAF (%)</text>
<rect x="54.70" y="365.40" width="22.50" height="31.40" fill="#c30226"/>
<rect x="77.20" y="350.04" width="22.90" height="46.76" fill="#bd6913"/>
<rect x="131.40" y="361.73" width="22.50" height="35.07" fill="#c30226"/>
<rect x="177.40" y="305.28" width="22.70" height="91.52" fill="#673d0e"/>
<rect x="54.70" y="398.30" width="68.30" height="2.00" fill="#c30226"/>
<rect x="131.40" y="398.30" width="68.70" height="2.00" fill="#2ca6e0"/>
<line x1="50.40" y1="305.40" x2="50.40" y2="399.40" stroke="#2a2a2a" stroke-width="1.0"/>
<line x1="47.30" y1="396.80" x2="50.40" y2="396.80" stroke="#2a2a2a" stroke-width="0.9"/>
<text x="44.20" y="399.10" font-size="6.4" text-anchor="end" fill="#222" stroke="#222" stroke-width="0.15">0</text>
<line x1="47.30" y1="380.10" x2="50.40" y2="380.10" stroke="#2a2a2a" stroke-width="0.9"/>
<text x="44.20" y="382.40" font-size="6.4" text-anchor="end" fill="#222" stroke="#222" stroke-width="0.15">1</text>
<line x1="47.30" y1="363.40" x2="50.40" y2="363.40" stroke="#2a2a2a" stroke-width="0.9"/>
<text x="44.20" y="365.70" font-size="6.4" text-anchor="end" fill="#222" stroke="#222" stroke-width="0.15">2</text>
<line x1="47.30" y1="346.70" x2="50.40" y2="346.70" stroke="#2a2a2a" stroke-width="0.9"/>
<text x="44.20" y="349.00" font-size="6.4" text-anchor="end" fill="#222" stroke="#222" stroke-width="0.15">3</text>
<line x1="47.30" y1="330.00" x2="50.40" y2="330.00" stroke="#2a2a2a" stroke-width="0.9"/>
<text x="44.20" y="332.30" font-size="6.4" text-anchor="end" fill="#222" stroke="#222" stroke-width="0.15">4</text>
<line x1="47.30" y1="313.30" x2="50.40" y2="313.30" stroke="#2a2a2a" stroke-width="0.9"/>
<text x="44.20" y="315.60" font-size="6.4" text-anchor="end" fill="#222" stroke="#222" stroke-width="0.15">5</text>
<text x="283.70" y="297.30" font-size="8.8" text-anchor="middle" fill="#222" stroke="#222" stroke-width="0.1" textLength="21.00" lengthAdjust="spacingAndGlyphs">MM4</text>
<text x="222.70" y="354.05" font-size="7.8" text-anchor="middle" fill="#222" stroke="#222" stroke-width="0.15" textLength="23.80" lengthAdjust="spacingAndGlyphs" transform="rotate(-90 222.70 354.05)">VAF (%)</text>
<rect x="272.30" y="392.20" width="22.70" height="4.30" fill="#f28d00"/>
<rect x="298.00" y="305.34" width="22.60" height="91.16" fill="#f28d00"/>
<rect x="246.90" y="398.00" width="23.10" height="2.00" fill="#c30226"/>
<rect x="272.30" y="398.00" width="22.70" height="2.00" fill="#2ca6e0"/>
<rect x="298.00" y="398.00" width="22.60" height="2.00" fill="#8880b4"/>
<line x1="243.50" y1="305.60" x2="243.50" y2="399.10" stroke="#2a2a2a" stroke-width="1.0"/>
<line x1="240.40" y1="396.50" x2="243.50" y2="396.50" stroke="#2a2a2a" stroke-width="0.9"/>
<text x="237.30" y="398.80" font-size="6.4" text-anchor="end" fill="#222" stroke="#222" stroke-width="0.15">0</text>
<line x1="240.40" y1="375.00" x2="243.50" y2="375.00" stroke="#2a2a2a" stroke-width="0.9"/>
<text x="237.30" y="377.30" font-size="6.4" text-anchor="end" fill="#222" stroke="#222" stroke-width="0.15">5</text>
<line x1="240.40" y1="353.50" x2="243.50" y2="353.50" stroke="#2a2a2a" stroke-width="0.9"/>
<text x="237.30" y="355.80" font-size="6.4" text-anchor="end" fill="#222" stroke="#222" stroke-width="0.15">10</text>
<line x1="240.40" y1="332.00" x2="243.50" y2="332.00" stroke="#2a2a2a" stroke-width="0.9"/>
<text x="237.30" y="334.30" font-size="6.4" text-anchor="end" fill="#222" stroke="#222" stroke-width="0.15">15</text>
<line x1="240.40" y1="310.50" x2="243.50" y2="310.50" stroke="#2a2a2a" stroke-width="0.9"/>
<text x="237.30" y="312.80" font-size="6.4" text-anchor="end" fill="#222" stroke="#222" stroke-width="0.15">20</text>
<text x="386.80" y="297.30" font-size="8.8" text-anchor="middle" fill="#222" stroke="#222" stroke-width="0.1" textLength="24.20" lengthAdjust="spacingAndGlyphs">MM21</text>
<text x="342.60" y="353.70" font-size="7.8" text-anchor="middle" fill="#222" stroke="#222" stroke-width="0.15" textLength="23.80" lengthAdjust="spacingAndGlyphs" transform="rotate(-90 342.60 353.70)">VAF (%)</text>
<rect x="363.60" y="311.60" width="22.50" height="84.80" fill="#fabe05"/>
<rect x="389.10" y="304.60" width="22.30" height="91.80" fill="#fabe05"/>
<rect x="363.60" y="397.90" width="22.50" height="2.00" fill="#c30226"/>
<rect x="389.10" y="397.90" width="22.30" height="2.00" fill="#303c52"/>
<line x1="359.60" y1="305.00" x2="359.60" y2="399.00" stroke="#2a2a2a" stroke-width="1.0"/>
<line x1="356.50" y1="396.40" x2="359.60" y2="396.40" stroke="#2a2a2a" stroke-width="0.9"/>
<text x="353.40" y="398.70" font-size="6.4" text-anchor="end" fill="#222" stroke="#222" stroke-width="0.15">0</text>
<line x1="356.50" y1="375.20" x2="359.60" y2="375.20" stroke="#2a2a2a" stroke-width="0.9"/>
<text x="353.40" y="377.50" font-size="6.4" text-anchor="end" fill="#222" stroke="#222" stroke-width="0.15">1</text>
<line x1="356.50" y1="354.00" x2="359.60" y2="354.00" stroke="#2a2a2a" stroke-width="0.9"/>
<text x="353.40" y="356.30" font-size="6.4" text-anchor="end" fill="#222" stroke="#222" stroke-width="0.15">2</text>
<line x1="356.50" y1="332.80" x2="359.60" y2="332.80" stroke="#2a2a2a" stroke-width="0.9"/>
<text x="353.40" y="335.10" font-size="6.4" text-anchor="end" fill="#222" stroke="#222" stroke-width="0.15">3</text>
<line x1="356.50" y1="311.60" x2="359.60" y2="311.60" stroke="#2a2a2a" stroke-width="0.9"/>
<text x="353.40" y="313.90" font-size="6.4" text-anchor="end" fill="#222" stroke="#222" stroke-width="0.15">4</text>
<text x="127.30" y="423.60" font-size="8.8" text-anchor="middle" fill="#222" stroke="#222" stroke-width="0.1" textLength="25.00" lengthAdjust="spacingAndGlyphs">MM27</text>
<text x="29.60" y="480.05" font-size="7.8" text-anchor="middle" fill="#222" stroke="#222" stroke-width="0.15" textLength="23.80" lengthAdjust="spacingAndGlyphs" transform="rotate(-90 29.60 480.05)">VAF (%)</text>
<rect x="54.60" y="482.80" width="22.50" height="39.80" fill="#adbf85"/>
<rect x="77.10" y="499.91" width="23.20" height="22.69" fill="#33ac2a"/>
<rect x="100.30" y="498.32" width="22.80" height="24.28" fill="#2ca6e0"/>
<rect x="131.40" y="432.25" width="22.50" height="90.35" fill="#adbf85"/>
<rect x="153.90" y="495.14" width="22.80" height="27.46" fill="#33ac2a"/>
<rect x="176.70" y="509.47" width="23.40" height="13.13" fill="#2ca6e0"/>
<rect x="54.60" y="524.10" width="68.50" height="2.00" fill="#c30226"/>
<rect x="131.40" y="524.10" width="68.70" height="2.00" fill="#303c52"/>
<line x1="50.40" y1="431.50" x2="50.40" y2="525.20" stroke="#2a2a2a" stroke-width="1.0"/>
<line x1="47.30" y1="522.60" x2="50.40" y2="522.60" stroke="#2a2a2a" stroke-width="0.9"/>
<text x="44.20" y="524.90" font-size="6.4" text-anchor="end" fill="#222" stroke="#222" stroke-width="0.15">0</text>
<line x1="47.30" y1="502.70" x2="50.40" y2="502.70" stroke="#2a2a2a" stroke-width="0.9"/>
<text x="44.20" y="505.00" font-size="6.4" text-anchor="end" fill="#222" stroke="#222" stroke-width="0.15">5</text>
<line x1="47.30" y1="482.80" x2="50.40" y2="482.80" stroke="#2a2a2a" stroke-width="0.9"/>
<text x="44.20" y="485.10" font-size="6.4" text-anchor="end" fill="#222" stroke="#222" stroke-width="0.15">10</text>
<line x1="47.30" y1="462.90" x2="50.40" y2="462.90" stroke="#2a2a2a" stroke-width="0.9"/>
<text x="44.20" y="465.20" font-size="6.4" text-anchor="end" fill="#222" stroke="#222" stroke-width="0.15">15</text>
<line x1="47.30" y1="443.00" x2="50.40" y2="443.00" stroke="#2a2a2a" stroke-width="0.9"/>
<text x="44.20" y="445.30" font-size="6.4" text-anchor="end" fill="#222" stroke="#222" stroke-width="0.15">20</text>
<text x="271.40" y="423.60" font-size="8.8" text-anchor="middle" fill="#222" stroke="#222" stroke-width="0.1" textLength="25.30" lengthAdjust="spacingAndGlyphs">MM33</text>
<text x="222.10" y="480.25" font-size="7.8" text-anchor="middle" fill="#222" stroke="#222" stroke-width="0.15" textLength="23.80" lengthAdjust="spacingAndGlyphs" transform="rotate(-90 222.10 480.25)">VAF (%)</text>
<rect x="247.20" y="431.45" width="22.60" height="91.45" fill="#0e4a80"/>
<rect x="272.60" y="479.24" width="22.50" height="43.66" fill="#0e4a80"/>
<rect x="247.20" y="524.40" width="22.60" height="2.00" fill="#c30226"/>
<rect x="272.60" y="524.40" width="22.50" height="2.00" fill="#303c52"/>
<line x1="243.50" y1="431.60" x2="243.50" y2="525.50" stroke="#2a2a2a" stroke-width="1.0"/>
<line x1="240.40" y1="522.90" x2="243.50" y2="522.90" stroke="#2a2a2a" stroke-width="0.9"/>
<text x="237.30" y="525.20" font-size="6.4" text-anchor="end" fill="#222" stroke="#222" stroke-width="0.15">0</text>
<line x1="240.40" y1="493.40" x2="243.50" y2="493.40" stroke="#2a2a2a" stroke-width="0.9"/>
<text x="237.30" y="495.70" font-size="6.4" text-anchor="end" fill="#222" stroke="#222" stroke-width="0.15">5</text>
<line x1="240.40" y1="463.90" x2="243.50" y2="463.90" stroke="#2a2a2a" stroke-width="0.9"/>
<text x="237.30" y="466.20" font-size="6.4" text-anchor="end" fill="#222" stroke="#222" stroke-width="0.15">10</text>
<line x1="240.40" y1="434.40" x2="243.50" y2="434.40" stroke="#2a2a2a" stroke-width="0.9"/>
<text x="237.30" y="436.70" font-size="6.4" text-anchor="end" fill="#222" stroke="#222" stroke-width="0.15">15</text>
<text x="416.50" y="423.60" font-size="8.8" text-anchor="middle" fill="#222" stroke="#222" stroke-width="0.1" textLength="19.30" lengthAdjust="spacingAndGlyphs">MM9</text>
<text x="317.90" y="480.20" font-size="7.8" text-anchor="middle" fill="#222" stroke="#222" stroke-width="0.15" textLength="23.80" lengthAdjust="spacingAndGlyphs" transform="rotate(-90 317.90 480.20)">VAF (%)</text>
<rect x="342.50" y="443.25" width="22.70" height="79.65" fill="#5c2064"/>
<rect x="365.20" y="431.69" width="22.90" height="91.21" fill="#e6067e"/>
<rect x="393.80" y="469.21" width="22.40" height="53.69" fill="#5c2064"/>
<rect x="416.20" y="476.88" width="23.30" height="46.02" fill="#e6067e"/>
<rect x="445.00" y="500.48" width="22.70" height="22.42" fill="#5c2064"/>
<rect x="467.70" y="499.89" width="22.80" height="23.01" fill="#e6067e"/>
<rect x="342.50" y="524.40" width="45.60" height="2.00" fill="#c30226"/>
<rect x="393.80" y="524.40" width="45.70" height="2.00" fill="#303c52"/>
<rect x="445.00" y="524.40" width="45.50" height="2.00" fill="#cdc8d4"/>
<line x1="338.60" y1="431.50" x2="338.60" y2="525.50" stroke="#2a2a2a" stroke-width="1.0"/>
<line x1="335.50" y1="522.90" x2="338.60" y2="522.90" stroke="#2a2a2a" stroke-width="0.9"/>
<text x="332.40" y="525.20" font-size="6.4" text-anchor="end" fill="#222" stroke="#222" stroke-width="0.15">0</text>
<line x1="335.50" y1="493.40" x2="338.60" y2="493.40" stroke="#2a2a2a" stroke-width="0.9"/>
<text x="332.40" y="495.70" font-size="6.4" text-anchor="end" fill="#222" stroke="#222" stroke-width="0.15">5</text>
<line x1="335.50" y1="463.90" x2="338.60" y2="463.90" stroke="#2a2a2a" stroke-width="0.9"/>
<text x="332.40" y="466.20" font-size="6.4" text-anchor="end" fill="#222" stroke="#222" stroke-width="0.15">10</text>
<line x1="335.50" y1="434.40" x2="338.60" y2="434.40" stroke="#2a2a2a" stroke-width="0.9"/>
<text x="332.40" y="436.70" font-size="6.4" text-anchor="end" fill="#222" stroke="#222" stroke-width="0.15">15</text>
<text x="427.20" y="305.80" font-size="6.5" text-anchor="start" fill="#222" stroke="#222" stroke-width="0.15" textLength="41.50" lengthAdjust="spacingAndGlyphs">Mutated Gene</text>
<rect x="427.00" y="309.40" width="5.90" height="5.70" fill="#c30226"/>
<text x="436.50" y="314.40" font-size="6.5" text-anchor="start" fill="#222" stroke="#222" stroke-width="0.15" textLength="43.60" lengthAdjust="spacingAndGlyphs">SF3B1 p.K666M</text>
<rect x="427.00" y="317.98" width="5.90" height="5.70" fill="#bd6913"/>
<text x="436.50" y="322.98" font-size="6.5" text-anchor="start" fill="#222" stroke="#222" stroke-width="0.15" textLength="40.80" lengthAdjust="spacingAndGlyphs">TET2 p.Q916*</text>
<rect x="427.00" y="326.56" width="5.90" height="5.70" fill="#673d0e"/>
<text x="436.50" y="331.56" font-size="6.5" text-anchor="start" fill="#222" stroke="#222" stroke-width="0.15" textLength="41.50" lengthAdjust="spacingAndGlyphs">TP53 p.R273H</text>
<rect x="427.00" y="335.14" width="5.90" height="5.70" fill="#f28d00"/>
<text x="436.50" y="340.14" font-size="6.5" text-anchor="start" fill="#222" stroke="#222" stroke-width="0.15" textLength="40.80" lengthAdjust="spacingAndGlyphs">TP53 p.K132R</text>
<rect x="427.00" y="343.72" width="5.90" height="5.70" fill="#fabe05"/>
<text x="436.50" y="348.72" font-size="6.5" text-anchor="start" fill="#222" stroke="#222" stroke-width="0.15" textLength="54.60" lengthAdjust="spacingAndGlyphs">TET2 p.S460Pfs*26</text>
<rect x="427.00" y="352.30" width="5.90" height="5.70" fill="#adbf85"/>
<text x="436.50" y="357.30" font-size="6.5" text-anchor="start" fill="#222" stroke="#222" stroke-width="0.15" textLength="68.80" lengthAdjust="spacingAndGlyphs">DNMT3A p.D268Efs*48</text>
<rect x="427.00" y="360.88" width="5.90" height="5.70" fill="#33ac2a"/>
<text x="436.50" y="365.88" font-size="6.5" text-anchor="start" fill="#222" stroke="#222" stroke-width="0.15" textLength="53.50" lengthAdjust="spacingAndGlyphs">DNMT3A p.R688C</text>
<rect x="427.00" y="369.46" width="5.90" height="5.70" fill="#2ca6e0"/>
<text x="436.50" y="374.46" font-size="6.5" text-anchor="start" fill="#222" stroke="#222" stroke-width="0.15" textLength="45.80" lengthAdjust="spacingAndGlyphs">PPM1D p.E475*</text>
<rect x="427.00" y="378.04" width="5.90" height="5.70" fill="#0e4a80"/>
<text x="436.50" y="383.04" font-size="6.5" text-anchor="start" fill="#222" stroke="#222" stroke-width="0.15" textLength="43.00" lengthAdjust="spacingAndGlyphs">TET2 p.S1848*</text>
<rect x="427.00" y="386.62" width="5.90" height="5.70" fill="#5c2064"/>
<text x="436.50" y="391.62" font-size="6.5" text-anchor="start" fill="#222" stroke="#222" stroke-width="0.15" textLength="58.90" lengthAdjust="spacingAndGlyphs">TET2 p.D1425Lfs*24</text>
<rect x="427.00" y="395.20" width="5.90" height="5.70" fill="#e6067e"/>
<text x="436.50" y="400.20" font-size="6.5" text-anchor="start" fill="#222" stroke="#222" stroke-width="0.15" textLength="53.00" lengthAdjust="spacingAndGlyphs">TET2 p.N482Kfs*4</text>
<rect x="155.50" y="536.90" width="5.70" height="5.70" fill="#c30226"/>
<text x="164.50" y="542.20" font-size="6.4" text-anchor="start" fill="#222" stroke="#222" stroke-width="0.15" textLength="27.90" lengthAdjust="spacingAndGlyphs">Diagnosis</text>
<rect x="199.60" y="536.90" width="5.70" height="5.70" fill="#2ca6e0"/>
<text x="208.60" y="542.20" font-size="6.4" text-anchor="start" fill="#222" stroke="#222" stroke-width="0.15" textLength="43.80" lengthAdjust="spacingAndGlyphs">Post-DRd/MRD</text>
<rect x="258.60" y="536.90" width="5.70" height="5.70" fill="#303c52"/>
<text x="267.60" y="542.20" font-size="6.4" text-anchor="start" fill="#222" stroke="#222" stroke-width="0.15">Post-ASCT</text>
<rect x="305.70" y="536.90" width="5.70" height="5.70" fill="#8880b4"/>
<text x="314.70" y="542.20" font-size="6.4" text-anchor="start" fill="#222" stroke="#222" stroke-width="0.15" textLength="22.20" lengthAdjust="spacingAndGlyphs">Relapse</text>
<rect x="343.70" y="536.90" width="5.70" height="5.70" fill="#cdc8d4"/>
<text x="352.70" y="542.20" font-size="6.4" text-anchor="start" fill="#222" stroke="#222" stroke-width="0.15" textLength="37.40" lengthAdjust="spacingAndGlyphs">Maintenance</text>
</svg>
<div id="frame"></div>
</div>
</body></html>
